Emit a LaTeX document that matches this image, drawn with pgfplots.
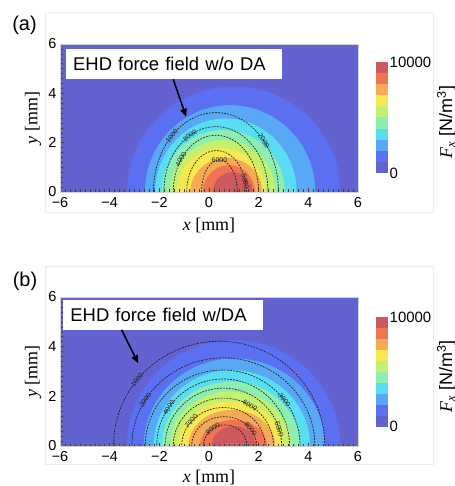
\documentclass[border=0pt]{standalone}
\usepackage{fontspec}
\setmainfont{Liberation Sans}
\newfontfamily\seriffont{Liberation Serif}
\usepackage{pgfplots}
\pgfplotsset{compat=1.18}
\usepackage{pgfplotstable}
\usetikzlibrary{arrows.meta}

\definecolor{c0}{RGB}{98,98,208}
\definecolor{c1}{RGB}{90,112,240}
\definecolor{c2}{RGB}{88,168,245}
\definecolor{c3}{RGB}{88,222,240}
\definecolor{c4}{RGB}{140,238,175}
\definecolor{c5}{RGB}{195,240,110}
\definecolor{c6}{RGB}{245,232,80}
\definecolor{c7}{RGB}{245,170,85}
\definecolor{c8}{RGB}{240,115,82}
\definecolor{c9}{RGB}{205,90,95}

% unit half circle (cos, sin) every 10 degrees
\pgfplotstableread{
c s
1 0
0.9848 0.1736
0.9397 0.3420
0.8660 0.5
0.7660 0.6428
0.6428 0.7660
0.5 0.8660
0.3420 0.9397
0.1736 0.9848
0 1
-0.1736 0.9848
-0.3420 0.9397
-0.5 0.8660
-0.6428 0.7660
-0.7660 0.6428
-0.8660 0.5
-0.9397 0.3420
-0.9848 0.1736
-1 0
}\unitcirc

% filled level band: centre x, x radius, y radius, colour
\newcommand{\band}[4]{\addplot[draw=none, fill=#4, smooth] table[x expr={#1+#2*\thisrow{c}}, y expr={#3*\thisrow{s}}] {\unitcirc};}
% dashed contour line: centre x, x radius, y radius
\newcommand{\cont}[3]{\addplot[black!90, line width=0.65bp, dash pattern=on 1.8bp off 1.2bp, smooth] table[x expr={#1+#2*\thisrow{c}}, y expr={#3*\thisrow{s}}] {\unitcirc};}

\pgfplotsset{
  panel/.style={
    scale only axis, width=298bp,
    xmin=-6, xmax=6, ymin=0, ymax=6,
    xtick={-6,-4,-2,0,2,4,6}, xticklabels={−6,−4,−2,0,2,4,6},
    ytick={0,2,4,6}, yticklabels={0,2,4,6},
    minor x tick num=9, minor y tick num=9,
    tick align=inside, tick pos=left,
    major tick length=3.5bp, minor tick length=2.5bp,
    tick style={black!75, line width=0.5bp},
    axis line style={draw=gray!35, line width=0.6bp},
    axis background/.style={fill=c0},
    axis on top,
    tick label style={font=\fontsize{14.5}{16}\selectfont},
    xticklabel style={yshift=-2bp},
    label style={font=\fontsize{18}{20}\selectfont},
    xlabel={{\seriffont\itshape x}{\seriffont\ [mm]}},
    ylabel={{\seriffont\itshape y}{\seriffont\ [mm]}},
    ylabel style={at={(axis description cs:-0.0906,0.5)}, anchor=center},
  },
  cbar/.style={
    scale only axis, width=12bp,
    xmin=0, xmax=1, ymin=0, ymax=10000,
    scaled y ticks=false,
    xtick=\empty, ytick={0,10000}, yticklabels={0,10000},
    yticklabel pos=right, major tick length=0pt,
    axis line style={draw=none},
    yticklabel style={font=\fontsize{15}{16}\selectfont, anchor=west, inner xsep=1.5bp},
  },
  cb/.style={draw=none, fill=#1},
}
\tikzset{
  clab/.style={font=\fontsize{7}{7.5}\selectfont, inner sep=0.5bp, text=black!85},
  tbox/.style={fill=white, anchor=north west, inner xsep=7bp, inner ysep=0pt, minimum height=30bp, align=left, font=\fontsize{18.5}{20}\selectfont},
  harrow/.style={-{Triangle[length=8bp,width=6.5bp]}, line width=1.5bp},
}

\begin{document}
\begin{tikzpicture}[x=1bp,y=1bp]
\useasboundingbox (0,0) rectangle (455,486);
\draw[gray!15, line width=0.6bp] (45,274) rectangle (433,474);
\draw[gray!15, line width=0.6bp] (45,22) rectangle (433,219.3);
\node[font=\fontsize{20}{22}\selectfont] at (24.5,461) {(a)};
\node[font=\fontsize{20}{22}\selectfont] at (25,205) {(b)};

% ---------------- panel (a) ----------------
\begin{axis}[panel, at={(60bp,294bp)}, anchor=south west, height=148bp,
  xlabel style={at={(axis description cs:0.5,-0.223)}, anchor=center}]
\band{0.99}{4.30}{4.28}{c1}
\band{0.85}{3.43}{3.52}{c2}
\band{0.68}{2.85}{2.98}{c3}
\band{0.58}{2.48}{2.51}{c4}
\band{0.55}{2.12}{2.10}{c5}
\band{0.48}{1.78}{1.78}{c6}
\band{0.70}{1.45}{1.38}{c7}
\band{0.80}{1.05}{1.08}{c8}
\band{0.95}{0.80}{0.80}{c9}
\cont{0.28}{2.52}{3.22}
\cont{0.28}{2.10}{2.65}
\cont{0.28}{1.72}{2.30}
\cont{0.30}{1.20}{1.68}
\cont{0.42}{0.72}{1.30}
\node[clab, rotate=52] at (axis cs:-1.50,2.28) {1000};
\node[clab, rotate=-57] at (axis cs:2.21,2.07) {2000};
\node[clab, rotate=36] at (axis cs:-0.77,2.29) {3000};
\node[clab, rotate=62] at (axis cs:-1.13,1.32) {4000};
\node[clab, rotate=-79] at (axis cs:1.46,0.43) {5000};
\node[clab] at (axis cs:0.42,1.30) {6000};
\node[tbox, text width=202bp] at (axis cs:-5.76,5.79) {EHD force field w/o DA};
\draw[harrow] (axis cs:-1.44,4.57) -- (axis cs:-0.92,3.05);
\end{axis}

\begin{axis}[cbar, at={(376bp,313bp)}, anchor=south west, height=111bp]
\addplot[cb=c0] coordinates {(0,0) (1,0) (1,1000) (0,1000)};
\addplot[cb=c1] coordinates {(0,1000) (1,1000) (1,2000) (0,2000)};
\addplot[cb=c2] coordinates {(0,2000) (1,2000) (1,3000) (0,3000)};
\addplot[cb=c3] coordinates {(0,3000) (1,3000) (1,4000) (0,4000)};
\addplot[cb=c4] coordinates {(0,4000) (1,4000) (1,5000) (0,5000)};
\addplot[cb=c5] coordinates {(0,5000) (1,5000) (1,6000) (0,6000)};
\addplot[cb=c6] coordinates {(0,6000) (1,6000) (1,7000) (0,7000)};
\addplot[cb=c7] coordinates {(0,7000) (1,7000) (1,8000) (0,8000)};
\addplot[cb=c8] coordinates {(0,8000) (1,8000) (1,9000) (0,9000)};
\addplot[cb=c9] coordinates {(0,9000) (1,9000) (1,10000) (0,10000)};
\end{axis}
\node[rotate=90, anchor=north, inner sep=0pt, font=\fontsize{18}{20}\selectfont] at (437,364) {{\seriffont\itshape F\textsubscript{x}} [N/m\textsuperscript{3}]};

% ---------------- panel (b) ----------------
\begin{axis}[panel, at={(60bp,40bp)}, anchor=south west, height=149bp,
  xlabel style={at={(axis description cs:0.5,-0.208)}, anchor=center}]
\band{0.99}{4.30}{4.27}{c1}
\band{1.02}{3.65}{3.53}{c2}
\band{0.92}{3.15}{3.06}{c3}
\band{0.89}{2.78}{2.59}{c4}
\band{0.88}{2.45}{2.19}{c5}
\band{0.88}{2.12}{1.79}{c6}
\band{0.92}{1.75}{1.45}{c7}
\band{0.99}{1.35}{1.05}{c8}
\band{1.00}{0.90}{0.80}{c9}
\cont{0.41}{4.26}{4.22}
\cont{0.58}{3.69}{3.55}
\cont{0.55}{3.12}{3.06}
\cont{0.57}{2.68}{2.70}
\cont{0.58}{2.35}{2.33}
\cont{0.58}{2.02}{1.93}
\cont{0.58}{1.68}{1.55}
\cont{0.61}{1.31}{1.18}
\cont{0.65}{0.87}{0.85}
\node[clab, rotate=51] at (axis cs:-2.90,2.66) {1000};
\node[clab, rotate=58] at (axis cs:-2.57,1.85) {2000};
\node[clab, rotate=-52] at (axis cs:3.04,1.85) {3000};
\node[clab, rotate=55] at (axis cs:-1.62,1.55) {4000};
\node[clab, rotate=-73] at (axis cs:2.83,0.68) {5000};
\node[clab, rotate=-31] at (axis cs:1.65,1.64) {6000};
\node[clab, rotate=48] at (axis cs:-0.71,1.00) {7000};
\node[clab, rotate=35] at (axis cs:0.15,0.70) {9000};
\node[clab, rotate=-52] at (axis cs:1.68,0.68) {8000};
\node[tbox, text width=186bp] at (axis cs:-5.87,5.89) {EHD force field w/DA};
\draw[harrow] (axis cs:-3.52,4.68) -- (axis cs:-2.85,3.33);
\end{axis}

\begin{axis}[cbar, at={(376bp,59.3bp)}, anchor=south west, height=109.4bp]
\addplot[cb=c0] coordinates {(0,0) (1,0) (1,1000) (0,1000)};
\addplot[cb=c1] coordinates {(0,1000) (1,1000) (1,2000) (0,2000)};
\addplot[cb=c2] coordinates {(0,2000) (1,2000) (1,3000) (0,3000)};
\addplot[cb=c3] coordinates {(0,3000) (1,3000) (1,4000) (0,4000)};
\addplot[cb=c4] coordinates {(0,4000) (1,4000) (1,5000) (0,5000)};
\addplot[cb=c5] coordinates {(0,5000) (1,5000) (1,6000) (0,6000)};
\addplot[cb=c6] coordinates {(0,6000) (1,6000) (1,7000) (0,7000)};
\addplot[cb=c7] coordinates {(0,7000) (1,7000) (1,8000) (0,8000)};
\addplot[cb=c8] coordinates {(0,8000) (1,8000) (1,9000) (0,9000)};
\addplot[cb=c9] coordinates {(0,9000) (1,9000) (1,10000) (0,10000)};
\end{axis}
\node[rotate=90, anchor=north, inner sep=0pt, font=\fontsize{18}{20}\selectfont] at (437,109.3) {{\seriffont\itshape F\textsubscript{x}} [N/m\textsuperscript{3}]};
\end{tikzpicture}
\end{document}
